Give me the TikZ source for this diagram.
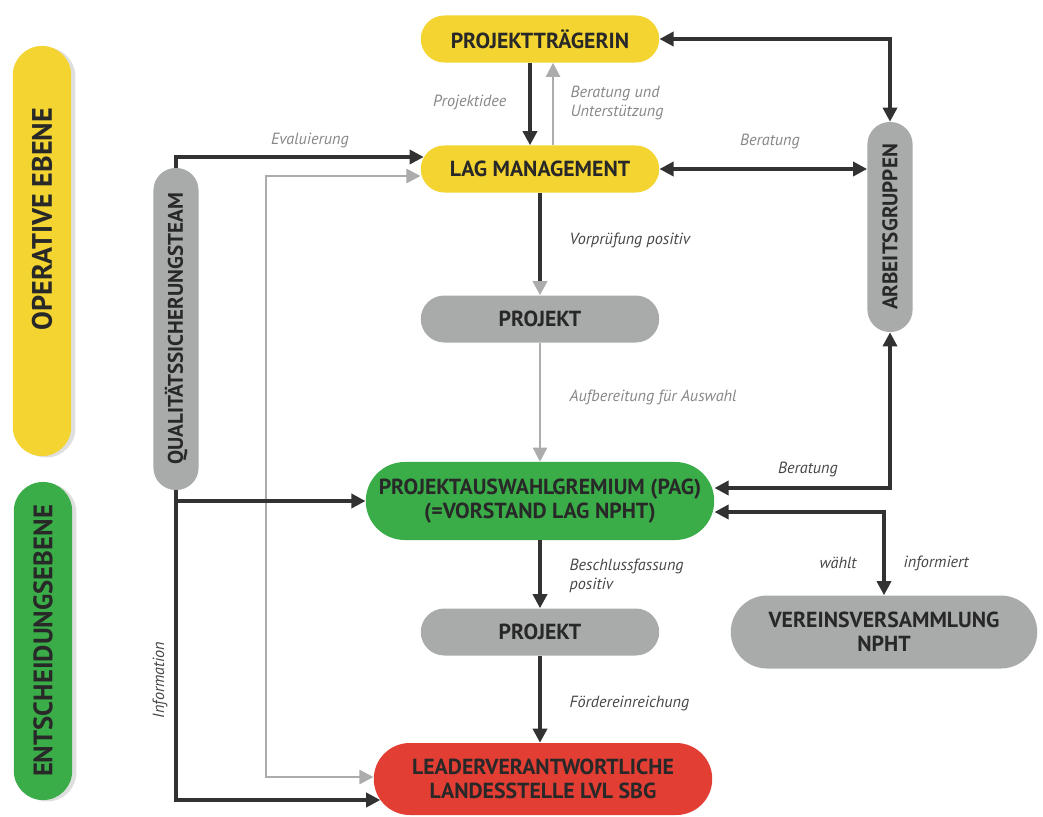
\documentclass[tikz,border=0pt]{standalone}
\usepackage{fontspec}
\usepackage{graphicx}
\usepackage{tikz}
\usetikzlibrary{arrows.meta, positioning, shapes.misc, shadows}

\newfontfamily\headfont{PT Sans}
\newfontfamily\notefont{PT Sans}

\definecolor{lagyellow}{RGB}{243,212,48}
\definecolor{paggreen}{RGB}{58,172,72}
\definecolor{lvlred}{RGB}{226,62,52}
\definecolor{pillgray}{RGB}{168,171,170}
\definecolor{inkdark}{RGB}{40,40,40}
\definecolor{linkdark}{RGB}{50,50,50}
\definecolor{linkgray}{RGB}{172,172,172}
\definecolor{notegray}{RGB}{135,135,135}
\definecolor{notedark}{RGB}{70,70,70}

\begin{document}
\begin{tikzpicture}[x=0.025cm, y=-0.025cm,
    pill/.style={rounded rectangle, minimum width=6.1cm, minimum height=1.175cm, inner sep=2pt,
        align=center, text=inkdark, font=\headfont\bfseries\fontsize{15.5}{17}\selectfont},
    vpill/.style={rectangle, rounded corners=0.56cm, minimum width=1.13cm, inner sep=0pt,
        fill=pillgray, text=inkdark, font=\headfont\bfseries\fontsize{15}{17}\selectfont},
    level/.style={rectangle, rounded corners=0.73cm, minimum width=1.46cm, inner sep=0pt,
        drop shadow={shadow xshift=3pt, shadow yshift=-1pt, opacity=0.25},
        text=inkdark, font=\headfont\bfseries\fontsize{20}{22}\selectfont},
    link/.style={draw=linkdark, line width=2.4pt, -{Triangle[length=10pt, width=10pt]}},
    twoway/.style={link, {Triangle[length=10pt, width=10pt]}-{Triangle[length=10pt, width=10pt]}},
    softlink/.style={draw=linkgray, line width=1.8pt, -{Triangle[length=10pt, width=10pt]}},
    softtwoway/.style={softlink, {Triangle[length=10pt, width=10pt]}-{Triangle[length=10pt, width=10pt]}},
    note/.style={font=\notefont\itshape\fontsize{11.5}{14}\selectfont, text=notegray, align=left, inner sep=1pt},
    darknote/.style={note, text=notedark}]

    \useasboundingbox (0,0) rectangle (1043,816);

    % levels on the left
    \node[level, fill=lagyellow, minimum height=10.25cm] (operativ) at (42,251)
        {\rotatebox{90}{\hspace{1.6cm}OPERATIVE EBENE}};
    \node[level, fill=paggreen, minimum height=7.95cm, font=\headfont\bfseries\fontsize{19}{21}\selectfont]
        (entscheidung) at (43,641) {\rotatebox{90}{ENTSCHEIDUNGSEBENE}};

    % vertical pills
    \node[vpill, minimum height=8.05cm] (qs) at (176,329) {\rotatebox{90}{QUALITÄTSSICHERUNGSTEAM}};
    \node[vpill, minimum height=5.25cm] (ag) at (890,227) {\rotatebox{90}{ARBEITSGRUPPEN}};

    % main column
    \node[pill, fill=lagyellow] (traegerin) at (540,39) {PROJEKTTRÄGERIN};
    \node[pill, fill=lagyellow] (lag) at (540,169) {LAG MANAGEMENT};
    \node[pill, fill=pillgray] (projekt) at (540,319) {PROJEKT};
    \node[pill, fill=paggreen, minimum width=8.85cm, minimum height=1.95cm] (pag) at (540,501)
        {PROJEKTAUSWAHLGREMIUM (PAG)\\(=VORSTAND LAG NPHT)};
    \node[pill, fill=pillgray] (beschlossen) at (540,632) {PROJEKT};
    \node[pill, fill=lvlred, minimum width=8.6cm, minimum height=1.8cm] (lvl) at (543,779)
        {LEADERVERANTWORTLICHE\\LANDESSTELLE LVL SBG};
    \node[pill, fill=pillgray, minimum width=7.8cm, minimum height=1.825cm] (vv) at (884,632)
        {VEREINSVERSAMMLUNG\\NPHT};

    % corner points
    \coordinate (evalend) at ([yshift=0.3cm, xshift=0.08cm]lag.west);
    \coordinate (rueckoben) at (266,176);
    \coordinate (rueckunten) at (266,777);
    \coordinate (lvlunten) at ([yshift=-0.525cm, xshift=0.17cm]lvl.west);

    % connectors
    \draw[link] ([xshift=-0.25cm]traegerin.south) -- ([xshift=-0.25cm]lag.north);
    \draw[softlink] ([xshift=0.325cm]lag.north) -- ([xshift=0.325cm]traegerin.south);
    \draw[twoway] (traegerin.east) -| (ag.north);
    \draw[twoway] (lag.east) -- (ag.west |- lag.east);
    \draw[link] (qs.north) |- (evalend);
    \draw[softtwoway] (lag.west |- rueckoben) -- (rueckoben) -- (rueckunten) -- (lvl.west |- rueckunten);
    \draw[link, -{Triangle[length=10pt, width=10pt, color=linkgray]}] (lag.south) -- (projekt.north);
    \draw[softlink] (projekt.south) -- (pag.north);
    \draw[link] (qs.south) |- (pag.west);
    \draw[link] (qs.south) |- (lvlunten);
    \draw[twoway] (ag.south) |- ([yshift=0.325cm]pag.east);
    \draw[twoway] ([yshift=-0.275cm]pag.east) -| (vv.north);
    \draw[link] (pag.south) -- (beschlossen.north);
    \draw[link] (beschlossen.south) -- (beschlossen.south |- lvl.north);

    % labels
    \node[note, anchor=east] (idee) at (508,102) {Projektidee};
    \node[note, anchor=west] (unterst) at (569,103) {Beratung und\\Unterstützung};
    \node[note] (evaltext) at (310,140) {Evaluierung};
    \node[note] (beratoben) at (770,141) {Beratung};
    \node[darknote, anchor=west] (vorpruef) at (568,240) {Vorprüfung positiv};
    \node[note, anchor=west] (aufber) at (568,397) {Aufbereitung für Auswahl};
    \node[darknote] (beratunten) at (808,469) {Beratung};
    \node[darknote] (waehlt) at (838,563) {wählt};
    \node[darknote, anchor=west] (informiert) at (902,563) {informiert};
    \node[darknote, anchor=west] (beschluss) at (568,576) {Beschlussfassung\\positiv};
    \node[darknote, anchor=west] (einreich) at (568,703) {Fördereinreichung};
    \node[darknote, rotate=90] (info) at (160,680) {Information};
\end{tikzpicture}
\end{document}
